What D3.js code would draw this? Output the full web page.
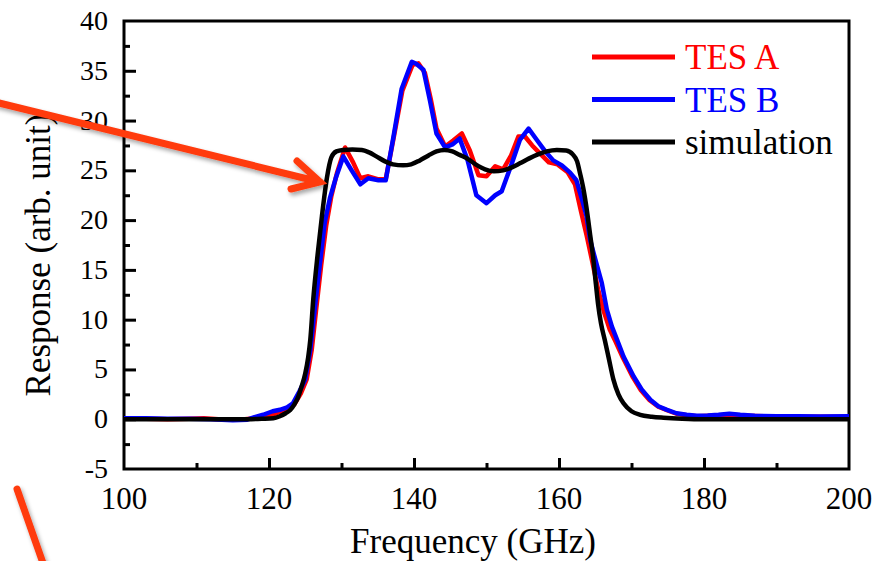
<!DOCTYPE html>
<html>
<head>
<meta charset="utf-8">
<script src="https://cdn.jsdelivr.net/npm/d3@7"></script>
<style>
  body { margin: 0; background: #fff; }
</style>
</head>
<body>
<div id="chart"></div>
<script>
// measured spectra, [frequency GHz, response]
var tes_b = [[100,0.1],[103,0.1],[106,0.05],[109,0.05],[112,0.0],[115,-0.1],[117,-0.05],[118,0.2],[119.2,0.45],
  [120.5,0.8],[121.5,0.95],[122.5,1.2],[123.3,1.6],[124.2,2.8],[125,4.0],[125.7,7.0],[126.3,11.0],[127,15.5],
  [127.7,19.8],[128.4,22.2],[129.2,24.2],[130.25,26.4],[131.4,25.0],[132.6,23.6],[133.7,24.2],[135.1,24.0],
  [136.1,24.0],[137.2,28.5],[138.3,33.2],[139.7,35.9],[140.3,35.7],[141.3,35.1],[142.2,32.0],[143.1,28.7],
  [144.3,27.3],[145.3,27.6],[146.3,28.2],[147.4,26.0],[148.6,22.5],[150.0,21.7],[151.2,22.5],[152.1,22.9],
  [153.4,25.5],[154.6,28.05],[155.8,29.2],[157.0,28.0],[158.0,27.0],[159.2,26.0],[160.4,25.5],[161.5,24.8],
  [162.4,24.0],[163.2,22.0],[163.8,20.4],[164.3,18.0],[165.1,15.8],[165.9,13.7],[166.6,11.0],[167.3,9.3],
  [168.0,8.0],[168.9,6.3],[170.3,4.3],[171.4,3.0],[172.6,1.95],[173.7,1.3],[174.9,0.94],[176.2,0.6],
  [177.6,0.44],[179,0.35],[180.5,0.38],[182,0.45],[183.5,0.55],[185,0.45],[187,0.35],[190,0.3],[193,0.3],
  [196,0.28],[200,0.3]];

var tes_a = [[100,0.05],[103,0.05],[106,0.0],[109,0.05],[111,0.1],[113,0.0],[116,-0.05],[118,0.1],[119.5,0.3],
  [121,0.6],[122.5,1.0],[123.5,1.5],[124.4,2.6],[125.2,4.0],[125.9,7.0],[126.5,11.0],[127.2,15.5],
  [127.9,19.5],[128.6,22.4],[129.4,24.8],[130.5,27.3],[131.6,25.8],[132.6,24.2],[133.7,24.4],[135.1,24.1],
  [136.1,24.1],[137.2,28.3],[138.4,33.0],[139.8,35.6],[140.6,35.75],[141.5,34.8],[142.3,32.2],[143.1,29.2],
  [144.3,27.4],[145.4,28.0],[146.6,28.7],[147.7,27.0],[148.9,24.5],[150.0,24.4],[151.2,25.4],[152.3,25.1],
  [153.4,26.5],[154.4,28.4],[155.3,28.4],[156.3,27.5],[157.5,26.6],[158.6,25.8],[159.8,25.6],[161.2,24.8],
  [162.2,23.6],[163.0,21.0],[163.8,18.5],[164.6,15.8],[165.4,13.0],[166.2,10.8],[167.0,9.0],[167.8,7.8],
  [168.8,6.2],[170.2,4.2],[171.3,2.9],[172.5,1.9],[173.7,1.25],[174.9,0.9],[176.2,0.55],[177.6,0.4],
  [179,0.3],[181,0.35],[183.5,0.45],[186,0.35],[190,0.25],[195,0.25],[200,0.25]];

var simulation = [[100,0],[110,0],[116,0],[119,0.05],[120.6,0.1],[121.5,0.3],[122.3,0.6],[122.9,0.9],
  [123.5,1.5],[124.0,2.2],[124.5,3.3],[125.0,4.6],[125.4,6.2],[125.7,8.0],[126.1,12.0],[126.7,16.5],
  [127.3,20.4],[128.0,24.3],[128.6,26.3],[129.3,26.9],[130.2,27.05],[131.5,27.1],[132.8,27.05],[133.8,26.8],
  [134.8,26.4],[136,25.9],[137.1,25.6],[138.5,25.5],[139.6,25.6],[140.8,26.0],[142,26.5],[143.1,26.9],
  [144.2,27.05],[145.3,26.9],[146.3,26.55],[147.3,26.2],[148.5,25.6],[149.8,25.1],[151.0,24.9],[152.3,25.0],
  [153.5,25.3],[154.6,25.7],[155.9,26.2],[157.1,26.6],[158.3,26.9],[159.7,27.05],[161.0,27.0],[161.9,26.6],
  [162.5,25.9],[162.9,24.7],[163.4,23.0],[163.8,21.2],[164.3,18.5],[164.7,16.3],[165.1,13.5],[165.4,11.5],
  [165.8,9.6],[166.3,8.0],[166.9,6.0],[167.5,4.0],[168.2,2.5],[168.9,1.6],[170,0.8],[171.2,0.44],
  [172.8,0.25],[174.4,0.15],[177,0.05],[180,0.0],[200,0]];

var series_names = ["TES A", "TES B", "simulation"];
var series_colors = ["#ff0000", "#0000ff", "#000000"];
var x_ticks = [100, 120, 140, 160, 180, 200];
var y_ticks = [-5, 0, 5, 10, 15, 20, 25, 30, 35, 40];

var width = 890, height = 561;
var padding = { top: 21, bottom: 92, left: 124, right: 41 };
var font = "'Liberation Serif', 'DejaVu Serif', serif";

var svg = d3.select("#chart").append("svg")
  .attr("width", width)
  .attr("height", height)
  .attr("font-family", font);

var defs = svg.append("defs");
var shadow = defs.append("filter").attr("id", "shadow")
  .attr("x", "-20%").attr("y", "-20%").attr("width", "140%").attr("height", "140%");
shadow.append("feDropShadow")
  .attr("dx", 2).attr("dy", 3).attr("stdDeviation", 2)
  .attr("flood-color", "#000").attr("flood-opacity", 0.35);

var scaleX = d3.scaleLinear().domain([100, 200]).range([padding.left, width - padding.right]);
var scaleY = d3.scaleLinear().domain([-5, 40]).range([height - padding.bottom, padding.top]);

var g = svg.append("g");

// frame
g.append("rect")
  .attr("x", scaleX(100))
  .attr("y", scaleY(40))
  .attr("width", scaleX(200) - scaleX(100))
  .attr("height", scaleY(-5) - scaleY(40))
  .style("fill", "none")
  .style("stroke", "black")
  .style("stroke-width", 3);

// x axis ticks (inward)
var xAxis = d3.axisBottom(scaleX).tickValues(d3.range(100, 201, 10))
  .tickSize(-5).tickFormat("");
var gx = g.append("g").attr("transform", "translate(0," + scaleY(-5) + ")").call(xAxis);
gx.select(".domain").remove();
gx.selectAll(".tick line")
  .attr("y2", function(d){ return d % 20 == 0 ? -11 : -6; })
  .style("stroke-width", 3);
gx.selectAll(".tick").filter(function(d){ return d == 100 || d == 200; }).remove();

g.selectAll(".x_label").data(x_ticks).enter()
  .append("text")
  .attr("class", "x_label")
  .attr("x", function(d){ return scaleX(d); })
  .attr("y", 509)
  .style("text-anchor", "middle")
  .style("font-family", font)
  .style("font-size", "31px")
  .text(function(d){ return d; });

// y axis ticks (inward)
var yAxis = d3.axisLeft(scaleY).tickValues(d3.range(-5, 40.1, 2.5))
  .tickSize(-5).tickFormat("");
var gy = g.append("g").attr("transform", "translate(" + scaleX(100) + ",0)").call(yAxis);
gy.select(".domain").remove();
gy.selectAll(".tick line")
  .attr("x2", function(d){ return d % 5 == 0 ? 12 : 6; })
  .style("stroke-width", 3);
gy.selectAll(".tick").filter(function(d){ return d == -5 || d == 40; }).remove();

g.selectAll(".y_label").data(y_ticks).enter()
  .append("text")
  .attr("class", "y_label")
  .attr("x", 108)
  .attr("y", function(d){ return scaleY(d) + 9; })
  .style("text-anchor", "end")
  .style("font-family", font)
  .style("font-size", "28px")
  .text(function(d){ return d; });

// axis titles
g.append("text")
  .attr("x", 473)
  .attr("y", 553)
  .style("text-anchor", "middle")
  .style("font-family", font)
  .style("font-size", "35px")
  .text("Frequency (GHz)");

g.append("text")
  .attr("transform", "translate(50," + 255 + ") rotate(-90)")
  .style("text-anchor", "middle")
  .style("font-family", font)
  .style("font-size", "35px")
  .text("Response (arb. unit)");

// curves
var line = d3.line()
  .x(function(d){ return scaleX(d[0]); })
  .y(function(d){ return scaleY(d[1]); });
var smooth = d3.line()
  .x(function(d){ return scaleX(d[0]); })
  .y(function(d){ return scaleY(d[1]); })
  .curve(d3.curveMonotoneX);

g.append("path").attr("d", line(tes_a))
  .style("fill", "none").style("stroke", series_colors[0])
  .style("stroke-width", 4.5).style("stroke-linejoin", "round");
g.append("path").attr("d", line(tes_b))
  .style("fill", "none").style("stroke", series_colors[1])
  .style("stroke-width", 4.5).style("stroke-linejoin", "round");
g.append("path").attr("d", smooth(simulation))
  .style("fill", "none").style("stroke", series_colors[2])
  .style("stroke-width", 4.5).style("stroke-linejoin", "round");

// legend
var legend = g.selectAll(".legend").data(series_names).enter()
  .append("g")
  .attr("class", "legend")
  .attr("transform", function(d, i){ return "translate(592," + (57 + i * 42.5) + ")"; });
legend.append("line")
  .attr("x1", 0).attr("x2", 83).attr("y1", 0).attr("y2", 0)
  .style("stroke", function(d, i){ return series_colors[i]; })
  .style("stroke-width", 5);
legend.append("text")
  .attr("x", 93)
  .attr("y", 12)
  .style("font-family", font)
  .style("font-size", "35px")
  .style("fill", function(d, i){ return series_colors[i]; })
  .text(function(d){ return d; });

// annotation arrows (outside the axes)
var arrows = svg.append("g").attr("filter", "url(#shadow)")
  .style("stroke", "#ff3a10").style("stroke-width", 7)
  .style("stroke-linecap", "round").style("fill", "none");
arrows.append("path").attr("d", "M -5,102 L 320,182 M 297,161 L 320,182 L 291,189");
arrows.append("path").attr("d", "M 17,489 L 44,566");
</script>
</body>
</html>
